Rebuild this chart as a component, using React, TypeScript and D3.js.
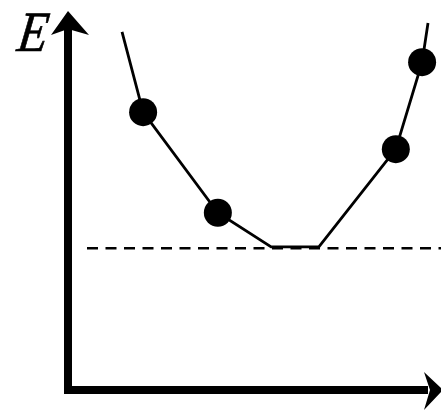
import React from "react";
import * as d3 from "d3";

const curveX = [1.46, 2.03, 4.05, 5.49, 6.78, 8.86, 9.57, 9.73];
const curveE = [9.68, 7.51, 4.79, 3.87, 3.87, 6.51, 8.86, 9.92];
const pointX = [2.03, 4.05, 8.86, 9.57];
const pointE = [7.51, 4.79, 6.51, 8.86];
const levelE = [3.83];
const axisLabels = ["E"];

const W = 441;
const H = 411;

export default function App() {
  const x = d3.scaleLinear().domain([0, 10]).range([68, 438]);
  const y = d3.scaleLinear().domain([0, 10]).range([390, 20]);
  const line = d3
    .line<number>()
    .x((_, i) => x(curveX[i]))
    .y((d) => y(d));
  const x0 = x(0);
  const y0 = y(0);
  const lvl = y(levelE[0]);
  return (
    <svg
      width={W}
      height={H}
      style={{ position: "absolute", left: 0, top: 0, background: "#fff" }}
    >
      {/* dashed reference level */}
      <line
        x1={87}
        x2={W}
        y1={lvl}
        y2={lvl}
        stroke="#000"
        strokeWidth={2.5}
        strokeDasharray="11 7.5"
      />
      {/* curve */}
      <path d={line(curveE) || ""} fill="none" stroke="#000" strokeWidth={2.8} />
      {pointX.map((px, i) => (
        <circle key={i} cx={x(px)} cy={y(pointE[i])} r={14} fill="#000" />
      ))}
      {/* axes */}
      <line x1={x0} x2={x0} y1={y0 + 4} y2={28} stroke="#000" strokeWidth={8} />
      <line x1={x0 - 4} x2={428} y1={y0} y2={y0} stroke="#000" strokeWidth={8} />
      <path
        d={`M${x0},11 L${x0 + 21},35 L${x0},29 L${x0 - 17},35 Z`}
        fill="#000"
      />
      <path
        d={`M443,${y0} L424,${y0 - 18} L430,${y0} L424,${y0 + 20} Z`}
        fill="#000"
      />
      <g transform="translate(14,51) skewX(-16) scale(0.86,1)">
        <text
          x={0}
          y={0}
          fontFamily="'Liberation Serif', serif"
          fontSize={57}
          fill="#000"
          stroke="#000"
          strokeWidth={0.7}
        >
          {axisLabels[0]}
        </text>
      </g>
    </svg>
  );
}
